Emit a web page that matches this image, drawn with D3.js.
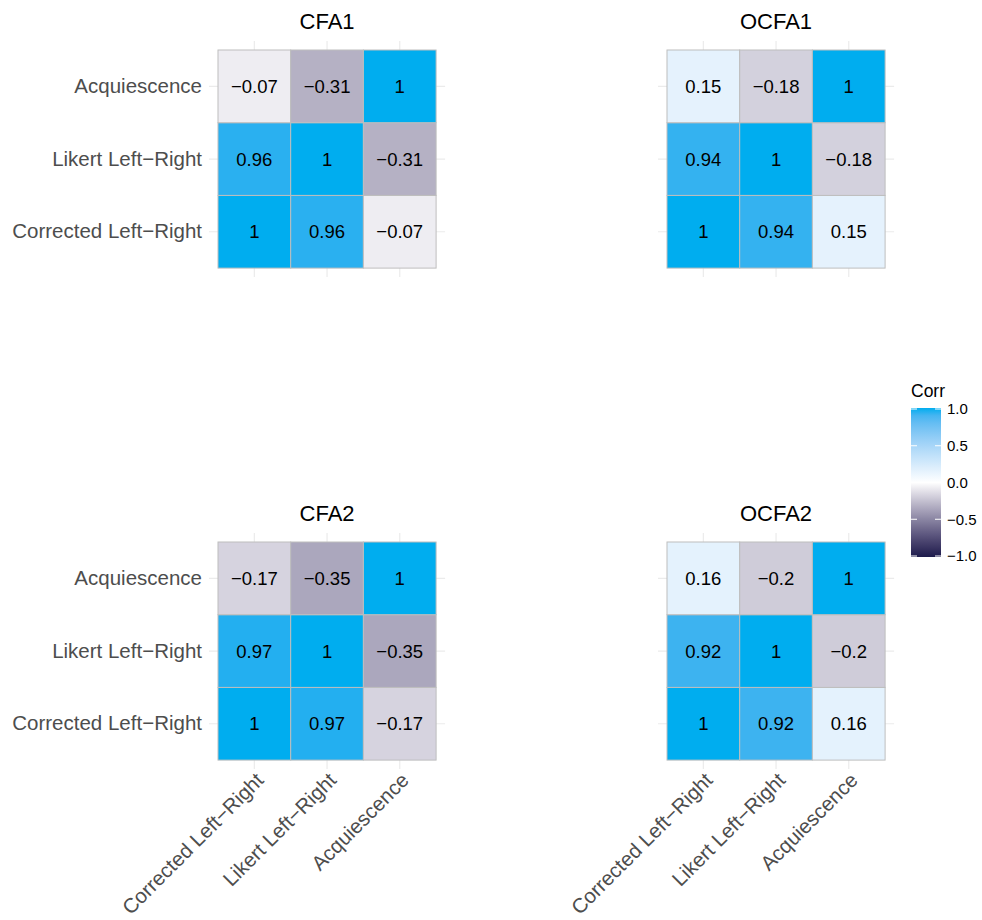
<!DOCTYPE html>
<html>
<head>
<meta charset="utf-8">
<script src="https://cdn.jsdelivr.net/npm/d3@7"></script>
<style>
  body { margin: 0; background: #fff; }
  svg { display: block; font-family: "Liberation Sans", Arial, sans-serif; }
</style>
</head>
<body>
<svg id="chart"></svg>
<script>
// data
const MODELS = ["CFA1", "OCFA1", "CFA2", "OCFA2"]
const VARS = ["Corrected Left−Right", "Likert Left−Right", "Acquiescence"]
// pairwise correlations, one entry per model
const R_CORR_LIKERT = [0.96, 0.94, 0.97, 0.92]
const R_CORR_ACQ = [-0.07, 0.15, -0.17, 0.16]
const R_LIKERT_ACQ = [-0.31, -0.18, -0.35, -0.2]
const LEGEND_TICKS = [-1, -0.5, 0, 0.5, 1]

const W = 982, H = 920
const LOW = "#1d1b4c", MID = "#ffffff", HIGH = "#00adef"
const TILE = 72.7
const PANEL = { size: TILE * 3, pad: 9 }
// panel origin, and whether it shows the y / x labels (shared axes)
const POS = [
  {x: 218, y: 50, showY: true, showX: false},
  {x: 667, y: 50, showY: false, showX: false},
  {x: 218, y: 542, showY: true, showX: true},
  {x: 667, y: 542, showY: false, showX: true}
]
const AXIS_FONT = 20.5, CELL_FONT = 18.5, TITLE_FONT = 22

const svg = d3.select("#chart").attr("width", W).attr("height", H)

const color = d3.scaleLinear()
  .domain([-1, 0, 1])
  .range([LOW, MID, HIGH])
  .interpolate(d3.interpolateLab)

const fmt = v => v === 1 ? "1" : String(v).replace("-", "−")

function matrixFor(i) {
  const r = [[1, R_CORR_LIKERT[i], R_CORR_ACQ[i]],
             [R_CORR_LIKERT[i], 1, R_LIKERT_ACQ[i]],
             [R_CORR_ACQ[i], R_LIKERT_ACQ[i], 1]]
  const cells = []
  VARS.forEach((a, ai) => VARS.forEach((b, bi) => cells.push({ x: a, y: b, v: r[ai][bi] })))
  return cells
}

MODELS.forEach((m, i) => {
  const p = POS[i]
  const g = svg.append("g").attr("transform", `translate(${p.x},${p.y})`)

  const x = d3.scaleBand().domain(VARS).range([0, PANEL.size])
  const y = d3.scaleBand().domain(VARS).range([PANEL.size, 0])

  // grid lines (theme_minimal)
  g.selectAll(".gx").data(VARS).join("line")
    .attr("x1", d => x(d) + x.bandwidth() / 2).attr("x2", d => x(d) + x.bandwidth() / 2)
    .attr("y1", -PANEL.pad).attr("y2", PANEL.size + PANEL.pad)
    .attr("stroke", "#ebebeb").attr("stroke-width", 1.2)
  g.selectAll(".gy").data(VARS).join("line")
    .attr("y1", d => y(d) + y.bandwidth() / 2).attr("y2", d => y(d) + y.bandwidth() / 2)
    .attr("x1", -PANEL.pad).attr("x2", PANEL.size + PANEL.pad)
    .attr("stroke", "#ebebeb").attr("stroke-width", 1.2)

  const cells = matrixFor(i)
  g.selectAll("rect.tile").data(cells).join("rect")
    .attr("x", d => x(d.x)).attr("y", d => y(d.y))
    .attr("width", x.bandwidth()).attr("height", y.bandwidth())
    .attr("fill", d => color(d.v))
    .attr("stroke", "#bebebe").attr("stroke-width", 1)

  g.selectAll("text.val").data(cells).join("text")
    .attr("x", d => x(d.x) + x.bandwidth() / 2)
    .attr("y", d => y(d.y) + y.bandwidth() / 2)
    .attr("text-anchor", "middle").attr("dy", "0.36em")
    .attr("font-size", CELL_FONT).attr("fill", "#000")
    .text(d => fmt(d.v))

  // title
  g.append("text")
    .attr("x", PANEL.size / 2).attr("y", -21)
    .attr("text-anchor", "middle").attr("font-size", TITLE_FONT).attr("fill", "#000")
    .text(m)

  // y axis labels
  if (p.showY) {
    const ya = g.append("g").call(d3.axisLeft(y).tickSize(0).tickPadding(16))
    ya.select(".domain").remove()
    ya.selectAll("text").attr("font-size", AXIS_FONT).attr("fill", "#4d4d4d")
      .attr("font-family", "Liberation Sans, Arial, sans-serif")
  }

  // x axis labels, rotated 45
  if (p.showX) {
    const xa = g.append("g").attr("transform", `translate(0,${PANEL.size})`)
      .call(d3.axisBottom(x).tickSize(0).tickPadding(0))
    xa.select(".domain").remove()
    xa.selectAll("text")
      .attr("font-size", AXIS_FONT).attr("fill", "#4d4d4d")
      .attr("font-family", "Liberation Sans, Arial, sans-serif")
      .attr("text-anchor", "end")
      .attr("x", 0).attr("y", 0).attr("dy", "0.72em")
      .attr("transform", "translate(0,11) rotate(-45)")
  }
})

// legend
const lg = svg.append("g").attr("transform", "translate(911,0)")
const barW = 30
const ly = d3.scaleLinear().domain([-1, 1]).range([556, 409])
const defs = svg.append("defs")
const grad = defs.append("linearGradient").attr("id", "corrGrad")
  .attr("x1", 0).attr("x2", 0).attr("y1", 1).attr("y2", 0)
d3.range(0, 1.0001, 0.05).forEach(t => {
  grad.append("stop").attr("offset", t).attr("stop-color", color(-1 + 2 * t))
})
lg.append("rect").attr("x", 0).attr("y", ly(1) - 1).attr("width", barW)
  .attr("height", ly(-1) - ly(1) + 2).attr("fill", "url(#corrGrad)")
lg.selectAll(".tl").data(LEGEND_TICKS).join("line")
  .attr("x1", 0).attr("x2", barW / 5).attr("y1", d => ly(d)).attr("y2", d => ly(d))
  .attr("stroke", "#fff").attr("stroke-width", 1)
lg.selectAll(".tr").data(LEGEND_TICKS).join("line")
  .attr("x1", barW - barW / 5).attr("x2", barW).attr("y1", d => ly(d)).attr("y2", d => ly(d))
  .attr("stroke", "#fff").attr("stroke-width", 1)
const la = lg.append("g").attr("transform", `translate(${barW},0)`)
  .call(d3.axisRight(ly).tickValues(LEGEND_TICKS).tickFormat(d3.format(".1f")).tickSize(0).tickPadding(6))
la.select(".domain").remove()
la.selectAll("text").attr("font-size", 15).attr("fill", "#000")
  .attr("font-family", "Liberation Sans, Arial, sans-serif")
lg.append("text").attr("x", 0).attr("y", 397).attr("font-size", 17.5).attr("fill", "#000").text("Corr")
</script>
</body>
</html>
